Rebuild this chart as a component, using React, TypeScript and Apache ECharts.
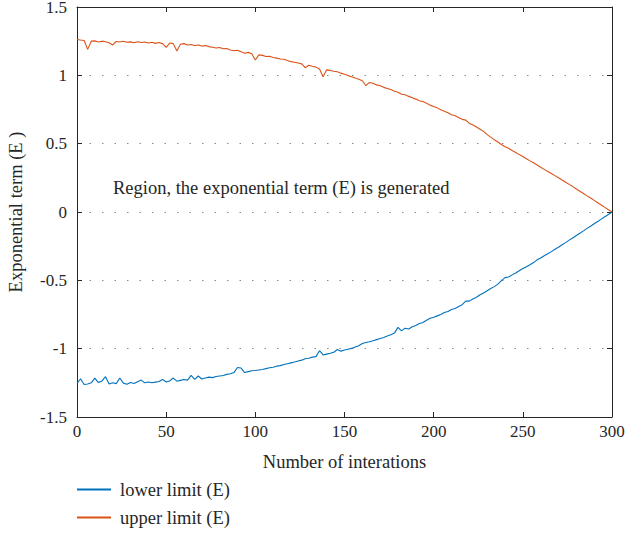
import React, { useEffect, useRef } from "react";
import * as echarts from "echarts";

const FONT = "Liberation Serif";
const BLUE = "#0072BD";
const ORANGE = "#D95319";

// iteration numbers (every 2nd iteration, 0..300)
const iterations: number[] = Array.from({ length: 151 }, (_, k) => k * 2);

const upperLimit: number[] = [
  1.262, 1.258, 1.255, 1.19, 1.25, 1.252, 1.244, 1.25, 1.246, 1.238,
  1.222, 1.248, 1.244, 1.25, 1.242, 1.245, 1.238, 1.246, 1.24, 1.244,
  1.236, 1.242, 1.234, 1.24, 1.232, 1.205, 1.236, 1.232, 1.178, 1.228,
  1.232, 1.222, 1.226, 1.218, 1.222, 1.214, 1.218, 1.21, 1.206, 1.2,
  1.204, 1.194, 1.196, 1.186, 1.18, 1.184, 1.172, 1.162, 1.168, 1.158,
  1.112, 1.15, 1.146, 1.138, 1.14, 1.13, 1.126, 1.12, 1.118, 1.108,
  1.1, 1.096, 1.09, 1.084, 1.056, 1.074, 1.066, 1.06, 1.046, 0.99,
  1.04, 1.036, 1.03, 1.026, 1.016, 1.008, 0.998, 0.99, 0.98, 0.972,
  0.96, 0.924, 0.948, 0.942, 0.93, 0.924, 0.912, 0.904, 0.896, 0.884,
  0.876, 0.862, 0.858, 0.846, 0.836, 0.826, 0.814, 0.808, 0.796, 0.782,
  0.772, 0.762, 0.748, 0.738, 0.726, 0.712, 0.704, 0.692, 0.678, 0.672,
  0.648, 0.636, 0.622, 0.606, 0.59, 0.566, 0.548, 0.528, 0.512, 0.494,
  0.478, 0.466, 0.45, 0.436, 0.42, 0.406, 0.39, 0.374, 0.36, 0.344,
  0.328, 0.312, 0.296, 0.282, 0.266, 0.25, 0.234, 0.218, 0.202, 0.186,
  0.168, 0.152, 0.135, 0.118, 0.102, 0.085, 0.068, 0.051, 0.034, 0.017,
  0,
];

const lowerLimit: number[] = [
  -1.255, -1.22, -1.262, -1.258, -1.25, -1.215, -1.248, -1.236, -1.205, -1.258,
  -1.25, -1.256, -1.215, -1.252, -1.26, -1.248, -1.255, -1.242, -1.23, -1.25,
  -1.244, -1.25, -1.245, -1.24, -1.225, -1.244, -1.236, -1.215, -1.238, -1.232,
  -1.226, -1.23, -1.195, -1.225, -1.2, -1.222, -1.214, -1.208, -1.212, -1.204,
  -1.2, -1.196, -1.188, -1.184, -1.175, -1.138, -1.142, -1.175, -1.168, -1.162,
  -1.16, -1.156, -1.152, -1.146, -1.14, -1.136, -1.128, -1.124, -1.116, -1.11,
  -1.104, -1.098, -1.09, -1.084, -1.074, -1.07, -1.062, -1.058, -1.015, -1.046,
  -1.04, -1.034, -1.026, -1.006, -1.018, -1.01, -1.004, -0.998, -0.988, -0.978,
  -0.962, -0.955, -0.95, -0.942, -0.934, -0.926, -0.918, -0.908, -0.898, -0.886,
  -0.844, -0.87, -0.85, -0.856, -0.84, -0.83, -0.816, -0.808, -0.792, -0.778,
  -0.77, -0.76, -0.75, -0.736, -0.728, -0.714, -0.706, -0.692, -0.678, -0.652,
  -0.652, -0.636, -0.624, -0.606, -0.592, -0.576, -0.56, -0.546, -0.528, -0.502,
  -0.48, -0.476, -0.46, -0.446, -0.43, -0.414, -0.4, -0.386, -0.37, -0.35,
  -0.336, -0.32, -0.306, -0.29, -0.272, -0.258, -0.24, -0.224, -0.206, -0.19,
  -0.172, -0.155, -0.138, -0.12, -0.104, -0.086, -0.069, -0.052, -0.035, -0.018,
  0,
];

const seriesNames = ["lower limit (E)", "upper limit (E)"];
const xAxisName = "Number of interations";
const yAxisName = "Exponential term (E )";
const annotation = "Region, the exponential term (E) is generated";

export default function App() {
  const ref = useRef<HTMLDivElement>(null);

  useEffect(() => {
    if (!ref.current) return;
    const chart = echarts.init(ref.current, undefined, { renderer: "svg" });
    const axisLine = { show: true, onZero: false, lineStyle: { color: "#262626", width: 1 } };
    const tickStyle = { show: true, inside: true, length: 5, lineStyle: { color: "#262626" } };
    const labelStyle = { fontFamily: FONT, fontSize: 17, color: "#262626" };
    const nameStyle = { fontFamily: FONT, fontSize: 18.5, color: "#262626" };

    chart.setOption({
      animation: false,
      backgroundColor: "#ffffff",
      textStyle: { fontFamily: FONT },
      grid: { left: 77, right: 13, top: 7, bottom: 118, outerBoundsMode: "none" },
      xAxis: [
        {
          type: "value",
          min: 0,
          max: 300,
          interval: 50,
          position: "bottom",
          name: xAxisName,
          nameLocation: "middle",
          nameGap: 35,
          nameTextStyle: nameStyle,
          axisLine,
          axisTick: tickStyle,
          axisLabel: { ...labelStyle, margin: 6 },
          splitLine: { show: false },
        },
        {
          type: "value",
          min: 0,
          max: 300,
          interval: 50,
          position: "top",
          axisLine,
          axisTick: tickStyle,
          axisLabel: { show: false },
          splitLine: { show: false },
        },
      ],
      yAxis: [
        {
          type: "value",
          min: -1.5,
          max: 1.5,
          interval: 0.5,
          position: "left",
          name: yAxisName,
          nameLocation: "middle",
          nameGap: 52,
          nameTextStyle: nameStyle,
          axisLine,
          axisTick: tickStyle,
          axisLabel: { ...labelStyle, margin: 10 },
          splitLine: {
            show: true,
            lineStyle: { color: "#8c8c8c", width: 1.2, type: [1.5, 11] },
          },
        },
        {
          type: "value",
          min: -1.5,
          max: 1.5,
          interval: 0.5,
          position: "right",
          axisLine,
          axisTick: tickStyle,
          axisLabel: { show: false },
          splitLine: { show: false },
        },
      ],
      legend: {
        orient: "vertical",
        left: 77,
        top: 480,
        height: 55,
        padding: 0,
        itemGap: 9,
        itemWidth: 34,
        itemHeight: 2,
        icon: "rect",
        textStyle: { fontFamily: FONT, fontSize: 18.5, color: "#262626", padding: [0, 0, 0, 4] },
        data: seriesNames,
      },
      graphic: [
        {
          type: "text",
          left: 113,
          top: 178,
          style: { text: annotation, fontFamily: FONT, fontSize: 18.5, fill: "#262626" },
        },
      ],
      series: [
        {
          name: seriesNames[0],
          type: "line",
          data: iterations.map((x, i) => [x, lowerLimit[i]]),
          symbol: "none",
          lineStyle: { color: BLUE, width: 1.1 },
          itemStyle: { color: BLUE },
        },
        {
          name: seriesNames[1],
          type: "line",
          data: iterations.map((x, i) => [x, upperLimit[i]]),
          symbol: "none",
          lineStyle: { color: ORANGE, width: 1.1 },
          itemStyle: { color: ORANGE },
        },
      ],
    });
    return () => chart.dispose();
  }, []);

  return (
    <div
      ref={ref}
      style={{ position: "fixed", left: 0, top: 0, width: 625, height: 535 }}
    />
  );
}
